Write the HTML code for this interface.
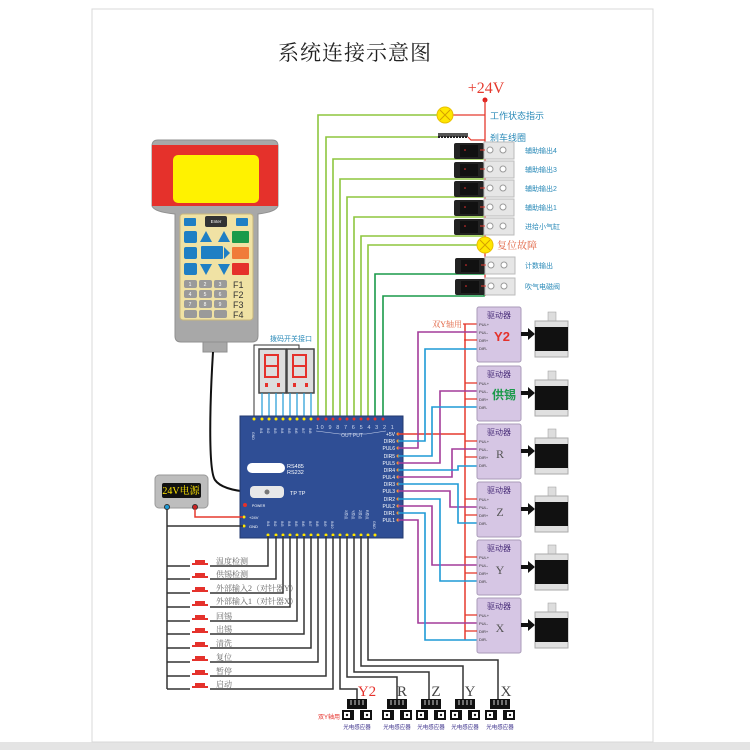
<!DOCTYPE html>
<html><head><meta charset="utf-8"><style>
html,body{margin:0;padding:0;background:#fff;}
svg{display:block;}
text{font-family:"Liberation Sans","Noto Sans CJK SC",sans-serif;}
.s{font-family:"Liberation Serif","Noto Serif CJK SC",serif;}
</style></head><body>
<svg width="750" height="750" viewBox="0 0 750 750" xmlns="http://www.w3.org/2000/svg">
<rect x="0" y="0" width="750" height="750" fill="#fff"/>
<rect x="0" y="742" width="750" height="8" fill="#e4e4e4"/>
<rect x="92" y="9" width="561" height="733" fill="#fff" stroke="#d8d8d8" stroke-width="1"/>
<text x="355" y="60" class="s" font-size="21" text-anchor="middle" fill="#222" letter-spacing="1">系统连接示意图</text>

<text x="486" y="93" class="s" font-size="16" fill="#e53a2e" text-anchor="middle">+24V</text>
<circle cx="485" cy="100" r="2.5" fill="#e0201e"/>
<line x1="485" y1="100" x2="485" y2="296" stroke="#e53a2e" stroke-width="1.3"/>

<g fill="none" stroke-width="1.6">
<polyline points="437,115 318,115 318,418" stroke="#8dc63f"/>
<polyline points="438,137 326,137 326,418" stroke="#8dc63f"/>
<polyline points="483,156 483,159 333,159 333,418" stroke="#8dc63f"/>
<polyline points="483,176 483,179 340,179 340,418" stroke="#8dc63f"/>
<polyline points="483,195 483,197 347,197 347,418" stroke="#8dc63f"/>
<polyline points="483,214 483,217 354,217 354,418" stroke="#8dc63f"/>
<polyline points="483,233 483,236 361,236 361,418" stroke="#8dc63f"/>
<polyline points="478,245 368,245 368,418" stroke="#8dc63f"/>
<polyline points="484,272 484,274 375,274 375,418" stroke="#1a9a4a"/>
<polyline points="484,293 484,296 383,296 383,418" stroke="#1a9a4a"/>
</g>
<line x1="453" y1="115" x2="485" y2="115" stroke="#e53a2e" stroke-width="1.3"/>
<circle cx="445" cy="115" r="8" fill="#ffe600" stroke="#e8c000"/>
<path d="M440,110 L450,120 M450,110 L440,120" stroke="#d4a000" stroke-width="1"/>
<text x="490" y="119" font-size="9" fill="#2a8ab8">工作状态指示</text>
<rect x="438" y="133" width="30" height="4" fill="#555"/>
<path d="M438,137 h30" stroke="#222" stroke-dasharray="2,1" stroke-width="2"/>
<polyline points="468,137 471,140 485,140" fill="none" stroke="#e53a2e" stroke-width="1.2"/>
<text x="490" y="141" font-size="9" fill="#2a8ab8">刹车线圈</text>

<g id="relays">
<g transform="translate(0,150)"><rect x="454" y="-7" width="30" height="16" fill="#222" rx="2"/><rect x="460" y="-5" width="18" height="12" fill="#111"/><circle cx="465" cy="0" r="0.8" fill="#e33"/><rect x="484" y="-8" width="30" height="17" fill="#e6e6e6" stroke="#bbb"/><circle cx="490" cy="0" r="3" fill="#fff" stroke="#999"/><circle cx="503" cy="0" r="3" fill="#fff" stroke="#999"/><line x1="480" y1="0" x2="485" y2="0" stroke="#e53a2e"/><text x="525" y="3" font-size="7" fill="#2a8ab8">辅助输出4</text></g>
<g transform="translate(0,169)"><rect x="454" y="-7" width="30" height="16" fill="#222" rx="2"/><rect x="460" y="-5" width="18" height="12" fill="#111"/><circle cx="465" cy="0" r="0.8" fill="#e33"/><rect x="484" y="-8" width="30" height="17" fill="#e6e6e6" stroke="#bbb"/><circle cx="490" cy="0" r="3" fill="#fff" stroke="#999"/><circle cx="503" cy="0" r="3" fill="#fff" stroke="#999"/><line x1="480" y1="0" x2="485" y2="0" stroke="#e53a2e"/><text x="525" y="3" font-size="7" fill="#2a8ab8">辅助输出3</text></g>
<g transform="translate(0,188)"><rect x="454" y="-7" width="30" height="16" fill="#222" rx="2"/><rect x="460" y="-5" width="18" height="12" fill="#111"/><circle cx="465" cy="0" r="0.8" fill="#e33"/><rect x="484" y="-8" width="30" height="17" fill="#e6e6e6" stroke="#bbb"/><circle cx="490" cy="0" r="3" fill="#fff" stroke="#999"/><circle cx="503" cy="0" r="3" fill="#fff" stroke="#999"/><line x1="480" y1="0" x2="485" y2="0" stroke="#e53a2e"/><text x="525" y="3" font-size="7" fill="#2a8ab8">辅助输出2</text></g>
<g transform="translate(0,207)"><rect x="454" y="-7" width="30" height="16" fill="#222" rx="2"/><rect x="460" y="-5" width="18" height="12" fill="#111"/><circle cx="465" cy="0" r="0.8" fill="#e33"/><rect x="484" y="-8" width="30" height="17" fill="#e6e6e6" stroke="#bbb"/><circle cx="490" cy="0" r="3" fill="#fff" stroke="#999"/><circle cx="503" cy="0" r="3" fill="#fff" stroke="#999"/><line x1="480" y1="0" x2="485" y2="0" stroke="#e53a2e"/><text x="525" y="3" font-size="7" fill="#2a8ab8">辅助输出1</text></g>
<g transform="translate(0,226)"><rect x="454" y="-7" width="30" height="16" fill="#222" rx="2"/><rect x="460" y="-5" width="18" height="12" fill="#111"/><circle cx="465" cy="0" r="0.8" fill="#e33"/><rect x="484" y="-8" width="30" height="17" fill="#e6e6e6" stroke="#bbb"/><circle cx="490" cy="0" r="3" fill="#fff" stroke="#999"/><circle cx="503" cy="0" r="3" fill="#fff" stroke="#999"/><line x1="480" y1="0" x2="485" y2="0" stroke="#e53a2e"/><text x="525" y="3" font-size="7" fill="#2a8ab8">进给小气缸</text></g>
<g transform="translate(1,265)"><rect x="454" y="-7" width="30" height="16" fill="#222" rx="2"/><rect x="460" y="-5" width="18" height="12" fill="#111"/><circle cx="465" cy="0" r="0.8" fill="#e33"/><rect x="484" y="-8" width="30" height="17" fill="#e6e6e6" stroke="#bbb"/><circle cx="490" cy="0" r="3" fill="#fff" stroke="#999"/><circle cx="503" cy="0" r="3" fill="#fff" stroke="#999"/><line x1="480" y1="0" x2="485" y2="0" stroke="#e53a2e"/><text x="524" y="3" font-size="7" fill="#2a8ab8">计数输出</text></g>
<g transform="translate(1,286)"><rect x="454" y="-7" width="30" height="16" fill="#222" rx="2"/><rect x="460" y="-5" width="18" height="12" fill="#111"/><circle cx="465" cy="0" r="0.8" fill="#e33"/><rect x="484" y="-8" width="30" height="17" fill="#e6e6e6" stroke="#bbb"/><circle cx="490" cy="0" r="3" fill="#fff" stroke="#999"/><circle cx="503" cy="0" r="3" fill="#fff" stroke="#999"/><line x1="480" y1="0" x2="485" y2="0" stroke="#e53a2e"/><text x="524" y="3" font-size="7" fill="#2a8ab8">吹气电磁阀</text></g>
</g>
<circle cx="485" cy="245" r="8" fill="#ffe600" stroke="#e8c000"/>
<path d="M480,240 L490,250 M490,240 L480,250" stroke="#d4a000" stroke-width="1"/>
<text x="497" y="249" class="s" font-size="10" fill="#e0603e">复位故障</text>

<path d="M158,140 H272 Q278,140 278,146 V206 Q276,212 258,214 V336 Q258,342 252,342 H181 Q175,342 175,336 V214 Q154,212 152,206 V146 Q152,140 158,140Z" fill="#a8a8a8" stroke="#8f8f8f"/>
<rect x="152" y="145" width="126" height="61" fill="#e5312b"/>
<rect x="173" y="155" width="86" height="48" rx="5" fill="#fff200"/>
<rect x="180" y="214" width="73" height="106" rx="3" fill="#f0e2a4" stroke="#c7b67c"/>
<rect x="184" y="218" width="12" height="8" rx="1" fill="#1f7fc4"/><rect x="236" y="218" width="12" height="8" rx="1" fill="#1f7fc4"/>
<rect x="205" y="216" width="22" height="11" rx="2" fill="#333"/><text x="216" y="223" font-size="4.5" fill="#fff" text-anchor="middle">Enter</text>
<rect x="184" y="231" width="13" height="12" rx="2" fill="#1f7fc4"/><rect x="184" y="263" width="13" height="12" rx="2" fill="#1f7fc4"/>
<rect x="184" y="247" width="13" height="12" rx="2" fill="#1f7fc4"/>
<polygon points="206,231 212,242 200,242" fill="#1f7fc4"/><polygon points="224,231 230,242 218,242" fill="#1f7fc4"/>
<polygon points="200,264 212,264 206,275" fill="#1f7fc4"/><polygon points="218,264 230,264 224,275" fill="#1f7fc4"/>
<rect x="201" y="246" width="22" height="13" rx="1" fill="#1f7fc4"/><polygon points="224,247 230,253 224,259" fill="#1f7fc4"/>
<rect x="232" y="231" width="17" height="12" rx="1" fill="#1a9a4a"/><rect x="232" y="247" width="17" height="12" rx="1" fill="#f07b3a"/><rect x="232" y="263" width="17" height="12" rx="1" fill="#e5312b"/>
<g fill="#9a9a9a">
<rect x="184" y="280" width="13" height="8" rx="2"/><rect x="199" y="280" width="13" height="8" rx="2"/><rect x="214" y="280" width="13" height="8" rx="2"/>
<rect x="184" y="290" width="13" height="8" rx="2"/><rect x="199" y="290" width="13" height="8" rx="2"/><rect x="214" y="290" width="13" height="8" rx="2"/>
<rect x="184" y="300" width="13" height="8" rx="2"/><rect x="199" y="300" width="13" height="8" rx="2"/><rect x="214" y="300" width="13" height="8" rx="2"/>
<rect x="184" y="310" width="13" height="8" rx="2"/><rect x="199" y="310" width="13" height="8" rx="2"/><rect x="214" y="310" width="13" height="8" rx="2"/>
</g>
<g font-size="5" fill="#fff" text-anchor="middle"><text x="190" y="286">1</text><text x="205" y="286">2</text><text x="220" y="286">3</text><text x="190" y="296">4</text><text x="205" y="296">5</text><text x="220" y="296">6</text><text x="190" y="306">7</text><text x="205" y="306">8</text><text x="220" y="306">9</text></g>
<g font-size="9" fill="#333"><text x="233" y="288">F1</text><text x="233" y="298">F2</text><text x="233" y="308">F3</text><text x="233" y="318">F4</text></g>
<rect x="203" y="342" width="24" height="10" fill="#a8a8a8" stroke="#8f8f8f"/>
<path d="M213,352 C210,400 208,470 215,480 Q222,490 250,492" fill="none" stroke="#111" stroke-width="2"/>

<text x="291" y="341" font-size="7" fill="#2a8ab8" text-anchor="middle">拨码开关接口</text>
<polyline points="254,419 254,345 299,345 299,349" fill="none" stroke="#333"/>
<rect x="259" y="349" width="27" height="44" fill="#ddd" stroke="#444" stroke-width="1.5"/>
<rect x="287" y="349" width="27" height="44" fill="#ddd" stroke="#444" stroke-width="1.5"/>
<g fill="none" stroke="#e5312b" stroke-width="2"><rect x="265" y="355" width="13" height="11"/><rect x="265" y="366" width="13" height="11"/><rect x="293" y="355" width="13" height="11"/><rect x="293" y="366" width="13" height="11"/></g>
<g fill="#e5312b"><rect x="265" y="383" width="3" height="4"/><rect x="277" y="383" width="3" height="4"/><rect x="293" y="383" width="3" height="4"/><rect x="305" y="383" width="3" height="4"/></g>
<g stroke="#1e9ad6" stroke-width="1.2"><line x1="262" y1="393" x2="262" y2="419"/><line x1="269" y1="393" x2="269" y2="419"/><line x1="276" y1="393" x2="276" y2="419"/><line x1="283" y1="393" x2="283" y2="419"/><line x1="290" y1="393" x2="290" y2="419"/><line x1="297" y1="393" x2="297" y2="419"/><line x1="304" y1="393" x2="304" y2="419"/><line x1="311" y1="393" x2="311" y2="419"/></g>

<rect x="240" y="416" width="163" height="122" fill="#2f4e95" stroke="#23396f"/>
<g fill="#ffe600"><circle cx="254" cy="419" r="1.5"/><circle cx="262" cy="419" r="1.5"/><circle cx="269" cy="419" r="1.5"/><circle cx="276" cy="419" r="1.5"/><circle cx="283" cy="419" r="1.5"/><circle cx="290" cy="419" r="1.5"/><circle cx="297" cy="419" r="1.5"/><circle cx="304" cy="419" r="1.5"/><circle cx="311" cy="419" r="1.5"/></g>
<g fill="#e5312b"><circle cx="318" cy="419" r="1.5"/><circle cx="326" cy="419" r="1.5"/><circle cx="333" cy="419" r="1.5"/><circle cx="340" cy="419" r="1.5"/><circle cx="347" cy="419" r="1.5"/><circle cx="354" cy="419" r="1.5"/><circle cx="361" cy="419" r="1.5"/><circle cx="368" cy="419" r="1.5"/><circle cx="375" cy="419" r="1.5"/><circle cx="383" cy="419" r="1.5"/></g>
<text x="316" y="429" font-size="5.5" fill="#cfd8ee" letter-spacing="1.6">10 9 8 7 6 5 4 3 2 1</text>
<path d="M316,431 L340,434 H366 L386,431" fill="none" stroke="#cfd8ee" stroke-width="0.5"/>
<text x="352" y="437" font-size="5" fill="#cfd8ee" text-anchor="middle">OUT PUT</text>
<g font-size="3.5" fill="#dfe6f5"><text x="252" y="432" transform="rotate(90 252 432)">GND</text><text x="260" y="428" transform="rotate(90 260 428)">IN1</text><text x="267" y="428" transform="rotate(90 267 428)">IN2</text><text x="274" y="428" transform="rotate(90 274 428)">IN3</text><text x="281" y="428" transform="rotate(90 281 428)">IN4</text><text x="288" y="428" transform="rotate(90 288 428)">IN5</text><text x="295" y="428" transform="rotate(90 295 428)">IN6</text><text x="302" y="428" transform="rotate(90 302 428)">IN7</text><text x="309" y="428" transform="rotate(90 309 428)">IN8</text></g>
<rect x="247" y="463" width="38" height="10" rx="5" fill="#fff"/>
<text x="287" y="468" font-size="5.5" fill="#fff">RS485</text><text x="287" y="474" font-size="5.5" fill="#fff">RS232</text>
<rect x="250" y="486" width="34" height="12" rx="4" fill="#e8e8e8"/><circle cx="267" cy="492" r="2.5" fill="#777"/>
<text x="290" y="495" font-size="5.5" fill="#fff">TP  TP</text>
<circle cx="245" cy="505" r="2" fill="#e5312b"/><text x="252" y="507" font-size="3.5" fill="#fff">POWER</text>
<circle cx="244" cy="517" r="1.5" fill="#ffe600"/><text x="249" y="519" font-size="4" fill="#fff">+24V</text>
<circle cx="244" cy="526" r="1.5" fill="#ffe600"/><text x="249" y="528" font-size="4" fill="#fff">GND</text>
<g font-size="5" fill="#fff" text-anchor="end"><text x="395" y="436">+5V</text><text x="395" y="443">DIR6</text><text x="395" y="450">PUL6</text><text x="395" y="458">DIR5</text><text x="395" y="465">PUL5</text><text x="395" y="472">DIR4</text><text x="395" y="479">PUL4</text><text x="395" y="486">DIR3</text><text x="395" y="493">PUL3</text><text x="395" y="501">DIR2</text><text x="395" y="508">PUL2</text><text x="395" y="515">DIR1</text><text x="395" y="522">PUL1</text></g>
<g fill="#f39233"><circle cx="398" cy="434" r="1.5"/><circle cx="398" cy="441" r="1.5"/><circle cx="398" cy="448" r="1.5"/><circle cx="398" cy="456" r="1.5"/><circle cx="398" cy="463" r="1.5"/><circle cx="398" cy="470" r="1.5"/><circle cx="398" cy="477" r="1.5"/><circle cx="398" cy="484" r="1.5"/><circle cx="398" cy="491" r="1.5"/><circle cx="398" cy="499" r="1.5"/><circle cx="398" cy="506" r="1.5"/><circle cx="398" cy="513" r="1.5"/><circle cx="398" cy="520" r="1.5"/></g>
<g font-size="3.5" fill="#dfe6f5"><text x="267" y="521" transform="rotate(90 267 521)">IN1</text><text x="274" y="521" transform="rotate(90 274 521)">IN2</text><text x="281" y="521" transform="rotate(90 281 521)">IN3</text><text x="288" y="521" transform="rotate(90 288 521)">IN4</text><text x="295" y="521" transform="rotate(90 295 521)">IN5</text><text x="302" y="521" transform="rotate(90 302 521)">IN6</text><text x="309" y="521" transform="rotate(90 309 521)">IN7</text><text x="316" y="521" transform="rotate(90 316 521)">IN8</text><text x="324" y="521" transform="rotate(90 324 521)">IN9</text><text x="331" y="521" transform="rotate(90 331 521)">IN10</text><text x="345" y="510" transform="rotate(90 345 510)">X原点</text><text x="352" y="510" transform="rotate(90 352 510)">Y原点</text><text x="359" y="510" transform="rotate(90 359 510)">Z原点</text><text x="366" y="510" transform="rotate(90 366 510)">R原点</text><text x="373" y="521" transform="rotate(90 373 521)">GND</text></g>
<g fill="#ffe600"><circle cx="268" cy="535" r="1.5"/><circle cx="276" cy="535" r="1.5"/><circle cx="283" cy="535" r="1.5"/><circle cx="290" cy="535" r="1.5"/><circle cx="297" cy="535" r="1.5"/><circle cx="304" cy="535" r="1.5"/><circle cx="311" cy="535" r="1.5"/><circle cx="318" cy="535" r="1.5"/><circle cx="326" cy="535" r="1.5"/><circle cx="333" cy="535" r="1.5"/><circle cx="340" cy="535" r="1.5"/><circle cx="347" cy="535" r="1.5"/><circle cx="354" cy="535" r="1.5"/><circle cx="361" cy="535" r="1.5"/><circle cx="368" cy="535" r="1.5"/><circle cx="375" cy="535" r="1.5"/></g>

<rect x="155" y="475" width="53" height="33" rx="4" fill="#bdbdbd" stroke="#999"/>
<rect x="162" y="483" width="39" height="15" rx="2" fill="#111"/>
<text x="181" y="494" class="s" font-size="10" fill="#ffe600" text-anchor="middle">24V电源</text>
<circle cx="167" cy="507" r="2.5" fill="#1e9ad6" stroke="#333"/>
<circle cx="195" cy="507" r="2.5" fill="#c22" stroke="#333"/>
<polyline points="195,509 195,517 243,517" fill="none" stroke="#e53a2e" stroke-width="1.5"/>
<polyline points="167,509 167,689" fill="none" stroke="#333" stroke-width="1.5"/>
<line x1="167" y1="526" x2="243" y2="526" stroke="#333" stroke-width="1.5"/>

<g fill="none" stroke="#333" stroke-width="1.5">
<polyline points="167,566 268,566 268,536"/>
<polyline points="167,579 276,579 276,536"/>
<polyline points="167,593 283,593 283,536"/>
<polyline points="167,607 290,607 290,536"/>
<polyline points="167,621 297,621 297,536"/>
<polyline points="167,634 304,634 304,536"/>
<polyline points="167,648 311,648 311,536"/>
<polyline points="167,662 318,662 318,536"/>
<polyline points="167,676 326,676 326,536"/>
<polyline points="167,689 333,689 333,536"/>
<polyline points="340,536 340,689 357,689 357,700"/>
<polyline points="347,536 347,677 397,677 397,700"/>
<polyline points="354,536 354,672 429,672 429,700"/>
<polyline points="361,536 361,666 463,666 463,700"/>
<polyline points="368,536 368,660 498,660 498,700"/>
</g>
<g id="btns" fill="#e5312b">
<g transform="translate(0,566)"><rect x="195" y="-6" width="10" height="3"/><rect x="192" y="-3" width="16" height="2"/><rect x="190" y="-1" width="20" height="2" fill="#fff"/></g>
<g transform="translate(0,579)"><rect x="195" y="-6" width="10" height="3"/><rect x="192" y="-3" width="16" height="2"/><rect x="190" y="-1" width="20" height="2" fill="#fff"/></g>
<g transform="translate(0,593)"><rect x="195" y="-6" width="10" height="3"/><rect x="192" y="-3" width="16" height="2"/><rect x="190" y="-1" width="20" height="2" fill="#fff"/></g>
<g transform="translate(0,607)"><rect x="195" y="-6" width="10" height="3"/><rect x="192" y="-3" width="16" height="2"/><rect x="190" y="-1" width="20" height="2" fill="#fff"/></g>
<g transform="translate(0,621)"><rect x="195" y="-6" width="10" height="3"/><rect x="192" y="-3" width="16" height="2"/><rect x="190" y="-1" width="20" height="2" fill="#fff"/></g>
<g transform="translate(0,634)"><rect x="195" y="-6" width="10" height="3"/><rect x="192" y="-3" width="16" height="2"/><rect x="190" y="-1" width="20" height="2" fill="#fff"/></g>
<g transform="translate(0,648)"><rect x="195" y="-6" width="10" height="3"/><rect x="192" y="-3" width="16" height="2"/><rect x="190" y="-1" width="20" height="2" fill="#fff"/></g>
<g transform="translate(0,662)"><rect x="195" y="-6" width="10" height="3"/><rect x="192" y="-3" width="16" height="2"/><rect x="190" y="-1" width="20" height="2" fill="#fff"/></g>
<g transform="translate(0,676)"><rect x="195" y="-6" width="10" height="3"/><rect x="192" y="-3" width="16" height="2"/><rect x="190" y="-1" width="20" height="2" fill="#fff"/></g>
<g transform="translate(0,689)"><rect x="195" y="-6" width="10" height="3"/><rect x="192" y="-3" width="16" height="2"/><rect x="190" y="-1" width="20" height="2" fill="#fff"/></g>
</g>
<g font-size="8" fill="#666">
<text x="216" y="564" class="s">温度检测</text><text x="216" y="577" class="s">供锡检测</text><text x="216" y="591" class="s">外部输入2（对针器Y）</text><text x="216" y="604" class="s">外部输入1（对针器X）</text><text x="216" y="619" class="s">回锡</text><text x="216" y="632" class="s">出锡</text><text x="216" y="646" class="s">清洗</text><text x="216" y="660" class="s">复位</text><text x="216" y="674" class="s">暂停</text><text x="216" y="687" class="s">启动</text>
</g>

<g id="sens">
<g transform="translate(357,0)"><rect x="-10" y="699" width="20" height="10" fill="#111"/><g stroke="#fff" stroke-width="0.8"><line x1="-6" y1="700" x2="-6" y2="705"/><line x1="-2" y1="700" x2="-2" y2="705"/><line x1="2" y1="700" x2="2" y2="705"/><line x1="6" y1="700" x2="6" y2="705"/></g><rect x="-15" y="710" width="30" height="10" fill="#111"/><rect x="-13" y="712" width="6" height="6" fill="#fff"/><rect x="7" y="712" width="6" height="6" fill="#fff"/><rect x="-3" y="710" width="6" height="10" fill="#fff"/><circle cx="-10" cy="715" r="1.2" fill="#111"/><circle cx="10" cy="715" r="1.2" fill="#111"/><text x="0" y="729" font-size="5.5" fill="#3a2f8a" text-anchor="middle">光电感应器</text></g>
<g transform="translate(397,0)"><rect x="-10" y="699" width="20" height="10" fill="#111"/><g stroke="#fff" stroke-width="0.8"><line x1="-6" y1="700" x2="-6" y2="705"/><line x1="-2" y1="700" x2="-2" y2="705"/><line x1="2" y1="700" x2="2" y2="705"/><line x1="6" y1="700" x2="6" y2="705"/></g><rect x="-15" y="710" width="30" height="10" fill="#111"/><rect x="-13" y="712" width="6" height="6" fill="#fff"/><rect x="7" y="712" width="6" height="6" fill="#fff"/><rect x="-3" y="710" width="6" height="10" fill="#fff"/><circle cx="-10" cy="715" r="1.2" fill="#111"/><circle cx="10" cy="715" r="1.2" fill="#111"/><text x="0" y="729" font-size="5.5" fill="#3a2f8a" text-anchor="middle">光电感应器</text></g>
<g transform="translate(431,0)"><rect x="-10" y="699" width="20" height="10" fill="#111"/><g stroke="#fff" stroke-width="0.8"><line x1="-6" y1="700" x2="-6" y2="705"/><line x1="-2" y1="700" x2="-2" y2="705"/><line x1="2" y1="700" x2="2" y2="705"/><line x1="6" y1="700" x2="6" y2="705"/></g><rect x="-15" y="710" width="30" height="10" fill="#111"/><rect x="-13" y="712" width="6" height="6" fill="#fff"/><rect x="7" y="712" width="6" height="6" fill="#fff"/><rect x="-3" y="710" width="6" height="10" fill="#fff"/><circle cx="-10" cy="715" r="1.2" fill="#111"/><circle cx="10" cy="715" r="1.2" fill="#111"/><text x="0" y="729" font-size="5.5" fill="#3a2f8a" text-anchor="middle">光电感应器</text></g>
<g transform="translate(465,0)"><rect x="-10" y="699" width="20" height="10" fill="#111"/><g stroke="#fff" stroke-width="0.8"><line x1="-6" y1="700" x2="-6" y2="705"/><line x1="-2" y1="700" x2="-2" y2="705"/><line x1="2" y1="700" x2="2" y2="705"/><line x1="6" y1="700" x2="6" y2="705"/></g><rect x="-15" y="710" width="30" height="10" fill="#111"/><rect x="-13" y="712" width="6" height="6" fill="#fff"/><rect x="7" y="712" width="6" height="6" fill="#fff"/><rect x="-3" y="710" width="6" height="10" fill="#fff"/><circle cx="-10" cy="715" r="1.2" fill="#111"/><circle cx="10" cy="715" r="1.2" fill="#111"/><text x="0" y="729" font-size="5.5" fill="#3a2f8a" text-anchor="middle">光电感应器</text></g>
<g transform="translate(500,0)"><rect x="-10" y="699" width="20" height="10" fill="#111"/><g stroke="#fff" stroke-width="0.8"><line x1="-6" y1="700" x2="-6" y2="705"/><line x1="-2" y1="700" x2="-2" y2="705"/><line x1="2" y1="700" x2="2" y2="705"/><line x1="6" y1="700" x2="6" y2="705"/></g><rect x="-15" y="710" width="30" height="10" fill="#111"/><rect x="-13" y="712" width="6" height="6" fill="#fff"/><rect x="7" y="712" width="6" height="6" fill="#fff"/><rect x="-3" y="710" width="6" height="10" fill="#fff"/><circle cx="-10" cy="715" r="1.2" fill="#111"/><circle cx="10" cy="715" r="1.2" fill="#111"/><text x="0" y="729" font-size="5.5" fill="#3a2f8a" text-anchor="middle">光电感应器</text></g>
</g>
<text x="367" y="696" class="s" font-size="15" fill="#e5312b" text-anchor="middle">Y2</text>
<text x="402" y="696" class="s" font-size="15" fill="#444" text-anchor="middle">R</text>
<text x="436" y="696" class="s" font-size="15" fill="#444" text-anchor="middle">Z</text>
<text x="470" y="696" class="s" font-size="15" fill="#444" text-anchor="middle">Y</text>
<text x="506" y="696" class="s" font-size="15" fill="#444" text-anchor="middle">X</text>
<text x="340" y="719" font-size="6" fill="#e5312b" text-anchor="end">双Y轴用</text>

<line x1="398" y1="434" x2="465" y2="434" stroke="#e53a2e" stroke-width="1.5"/>
<line x1="465" y1="324" x2="465" y2="640" stroke="#e53a2e" stroke-width="1.5"/>
<line x1="463" y1="324" x2="477" y2="324" stroke="#e53a2e" stroke-width="1.3"/>
<text x="462" y="327" class="s" font-size="8" fill="#e0603e" text-anchor="end">双Y轴用</text>
<g fill="none" stroke-width="1.6">
<polyline points="398,448 418,448 418,332 477,332" stroke="#a33c9a"/>
<polyline points="398,441 425,441 425,349 477,349" stroke="#1e9ad6"/>
<polyline points="398,463 440,463 440,391 477,391" stroke="#a33c9a"/>
<polyline points="398,456 432,456 432,407 477,407" stroke="#1e9ad6"/>
<polyline points="398,477 452,477 452,449 477,449" stroke="#a33c9a"/>
<polyline points="398,470 458,470 458,466 477,466" stroke="#1e9ad6"/>
<polyline points="398,491 450,491 450,507 477,507" stroke="#a33c9a"/>
<polyline points="398,484 458,484 458,523 477,523" stroke="#1e9ad6"/>
<polyline points="398,506 432,506 432,565 477,565" stroke="#a33c9a"/>
<polyline points="398,499 440,499 440,581 477,581" stroke="#1e9ad6"/>
<polyline points="398,520 418,520 418,623 477,623" stroke="#a33c9a"/>
<polyline points="398,513 425,513 425,640 477,640" stroke="#1e9ad6"/>
</g>
<g id="drv">
<g transform="translate(0,307)"><rect x="477" y="0" width="44" height="55" rx="2" fill="#d6c6e4" stroke="#a99bb8"/><text x="499" y="11" font-size="8" fill="#4a2f7a" text-anchor="middle">驱动器</text><g font-size="4" fill="#333"><text x="479" y="19">PUL+</text><text x="479" y="27">PUL-</text><text x="479" y="35">DIR+</text><text x="479" y="43">DIR-</text></g><line x1="465" y1="33" x2="477" y2="33" stroke="#e53a2e" stroke-width="1.3"/><circle cx="465" cy="33" r="1" fill="#e53a2e"/><rect x="521" y="25" width="8" height="4" fill="#111"/><polygon points="528,21 535,27 528,33" fill="#111"/><rect x="548" y="5" width="8" height="10" fill="#ddd" stroke="#999" stroke-width="0.5"/><rect x="535" y="14" width="33" height="36" fill="#e0e0e0" stroke="#aaa"/><rect x="535" y="20" width="33" height="24" fill="#111"/></g>
<g transform="translate(0,366)"><rect x="477" y="0" width="44" height="55" rx="2" fill="#d6c6e4" stroke="#a99bb8"/><text x="499" y="11" font-size="8" fill="#4a2f7a" text-anchor="middle">驱动器</text><g font-size="4" fill="#333"><text x="479" y="19">PUL+</text><text x="479" y="27">PUL-</text><text x="479" y="35">DIR+</text><text x="479" y="43">DIR-</text></g><line x1="465" y1="17" x2="477" y2="17" stroke="#e53a2e" stroke-width="1.3"/><line x1="465" y1="33" x2="477" y2="33" stroke="#e53a2e" stroke-width="1.3"/><rect x="521" y="25" width="8" height="4" fill="#111"/><polygon points="528,21 535,27 528,33" fill="#111"/><rect x="548" y="5" width="8" height="10" fill="#ddd" stroke="#999" stroke-width="0.5"/><rect x="535" y="14" width="33" height="36" fill="#e0e0e0" stroke="#aaa"/><rect x="535" y="20" width="33" height="24" fill="#111"/></g>
<g transform="translate(0,424)"><rect x="477" y="0" width="44" height="55" rx="2" fill="#d6c6e4" stroke="#a99bb8"/><text x="499" y="11" font-size="8" fill="#4a2f7a" text-anchor="middle">驱动器</text><g font-size="4" fill="#333"><text x="479" y="19">PUL+</text><text x="479" y="27">PUL-</text><text x="479" y="35">DIR+</text><text x="479" y="43">DIR-</text></g><line x1="465" y1="17" x2="477" y2="17" stroke="#e53a2e" stroke-width="1.3"/><line x1="465" y1="33" x2="477" y2="33" stroke="#e53a2e" stroke-width="1.3"/><rect x="521" y="25" width="8" height="4" fill="#111"/><polygon points="528,21 535,27 528,33" fill="#111"/><rect x="548" y="5" width="8" height="10" fill="#ddd" stroke="#999" stroke-width="0.5"/><rect x="535" y="14" width="33" height="36" fill="#e0e0e0" stroke="#aaa"/><rect x="535" y="20" width="33" height="24" fill="#111"/></g>
<g transform="translate(0,482)"><rect x="477" y="0" width="44" height="55" rx="2" fill="#d6c6e4" stroke="#a99bb8"/><text x="499" y="11" font-size="8" fill="#4a2f7a" text-anchor="middle">驱动器</text><g font-size="4" fill="#333"><text x="479" y="19">PUL+</text><text x="479" y="27">PUL-</text><text x="479" y="35">DIR+</text><text x="479" y="43">DIR-</text></g><line x1="465" y1="17" x2="477" y2="17" stroke="#e53a2e" stroke-width="1.3"/><line x1="465" y1="33" x2="477" y2="33" stroke="#e53a2e" stroke-width="1.3"/><rect x="521" y="25" width="8" height="4" fill="#111"/><polygon points="528,21 535,27 528,33" fill="#111"/><rect x="548" y="5" width="8" height="10" fill="#ddd" stroke="#999" stroke-width="0.5"/><rect x="535" y="14" width="33" height="36" fill="#e0e0e0" stroke="#aaa"/><rect x="535" y="20" width="33" height="24" fill="#111"/></g>
<g transform="translate(0,540)"><rect x="477" y="0" width="44" height="55" rx="2" fill="#d6c6e4" stroke="#a99bb8"/><text x="499" y="11" font-size="8" fill="#4a2f7a" text-anchor="middle">驱动器</text><g font-size="4" fill="#333"><text x="479" y="19">PUL+</text><text x="479" y="27">PUL-</text><text x="479" y="35">DIR+</text><text x="479" y="43">DIR-</text></g><line x1="465" y1="17" x2="477" y2="17" stroke="#e53a2e" stroke-width="1.3"/><line x1="465" y1="33" x2="477" y2="33" stroke="#e53a2e" stroke-width="1.3"/><rect x="521" y="25" width="8" height="4" fill="#111"/><polygon points="528,21 535,27 528,33" fill="#111"/><rect x="548" y="5" width="8" height="10" fill="#ddd" stroke="#999" stroke-width="0.5"/><rect x="535" y="14" width="33" height="36" fill="#e0e0e0" stroke="#aaa"/><rect x="535" y="20" width="33" height="24" fill="#111"/></g>
<g transform="translate(0,598)"><rect x="477" y="0" width="44" height="55" rx="2" fill="#d6c6e4" stroke="#a99bb8"/><text x="499" y="11" font-size="8" fill="#4a2f7a" text-anchor="middle">驱动器</text><g font-size="4" fill="#333"><text x="479" y="19">PUL+</text><text x="479" y="27">PUL-</text><text x="479" y="35">DIR+</text><text x="479" y="43">DIR-</text></g><line x1="465" y1="17" x2="477" y2="17" stroke="#e53a2e" stroke-width="1.3"/><line x1="465" y1="33" x2="477" y2="33" stroke="#e53a2e" stroke-width="1.3"/><rect x="521" y="25" width="8" height="4" fill="#111"/><polygon points="528,21 535,27 528,33" fill="#111"/><rect x="548" y="5" width="8" height="10" fill="#ddd" stroke="#999" stroke-width="0.5"/><rect x="535" y="14" width="33" height="36" fill="#e0e0e0" stroke="#aaa"/><rect x="535" y="20" width="33" height="24" fill="#111"/></g>
</g>
<text x="502" y="341" font-size="13" font-weight="bold" fill="#e5312b" text-anchor="middle">Y2</text>
<text x="504" y="399" font-size="12" font-weight="bold" fill="#1a9a4a" text-anchor="middle">供锡</text>
<text x="500" y="458" class="s" font-size="12" fill="#555" text-anchor="middle">R</text>
<text x="500" y="516" class="s" font-size="12" fill="#555" text-anchor="middle">Z</text>
<text x="500" y="574" class="s" font-size="12" fill="#555" text-anchor="middle">Y</text>
<text x="500" y="632" class="s" font-size="12" fill="#555" text-anchor="middle">X</text>
</svg>
</body></html>
